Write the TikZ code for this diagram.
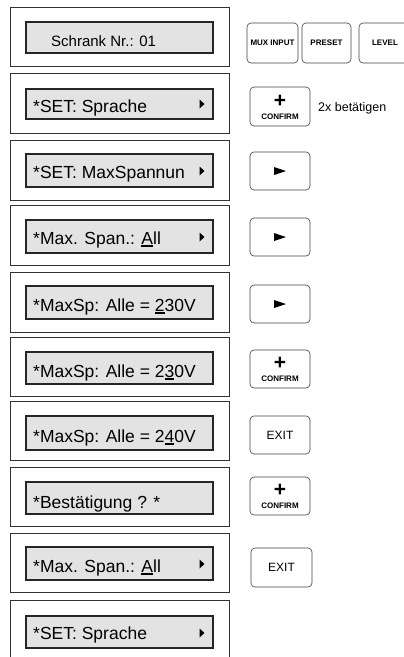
\documentclass[tikz,border=0pt]{standalone}
\usepackage{fontspec}
\setmainfont{Liberation Sans}
\usepackage{tikz}
\usetikzlibrary{calc}
\newcommand\dispfont{\fontsize{17.5}{20}\selectfont}
\newcommand\keyfont{\fontsize{8}{9}\selectfont\bfseries}
\newcommand\curch[1]{\setbox0\hbox{#1}\rlap{\rule[-3pt]{\wd0}{1.6pt}}#1}
\tikzset{
  frame/.style={draw=black!80, line width=0.6pt},
  display/.style={draw=black!85, line width=1.1pt, fill=black!11},
  disptext/.style={anchor=base west, inner sep=0pt, font=\dispfont},
  key/.style={draw=black!75, line width=0.6pt, rounded corners=4pt},
  keytext/.style={inner sep=0pt, font=\keyfont},
  plustext/.style={inner sep=0pt, font=\fontsize{21}{21}\selectfont\bfseries},
}
\def\scrarrow(#1){\fill ($(#1)+(-2.5,-4.5)$) -- ($(#1)+(2.5,0)$) -- ($(#1)+(-2.5,4.5)$) -- cycle;}
\def\keyarrow(#1){\fill ($(#1)+(-6,-4)$) -- ($(#1)+(6,0)$) -- ($(#1)+(-6,4)$) -- cycle;}

\begin{document}
\begin{tikzpicture}[x=1pt, y=-1pt]
			%%%%% START %%%%%
			\useasboundingbox (0,0) rectangle (404,657);
			
			% Zeile 1
			\draw[frame] (10, 7) rectangle (229, 66);
			\draw[display] (26, 22) rectangle (213, 53);
			\node[disptext, font=\fontsize{15}{17}\selectfont] (schrank) at (51, 46) {Schrank Nr.: 01};
			
			\draw[key] (247, 23) rectangle (298, 63);
			\node[keytext] (muxinput) at (272.5, 43) {MUX INPUT};
			\draw[key] (302, 23) rectangle (351, 63);
			\node[keytext] (preset) at (326.5, 43) {PRESET};
			\draw[key] (359, 23) rectangle (412, 63);
			\node[keytext] (level) at (385, 43) {LEVEL};
			
			% Zeile 2
			\draw[frame] (10, 73) rectangle (229, 133);
			\draw[display] (26, 89) rectangle (213, 119);
			\node[disptext] (sprache1) at (33, 112) {*SET: Sprache};
			\scrarrow(202, 104)
			
			\draw[key] (250, 87) rectangle (310, 126);
			\node[plustext] (plus1) at (280, 101) {+};
			\node[keytext] (confirm1) at (280, 117) {CONFIRM};
			\node[anchor=base west, inner sep=0pt, font=\fontsize{12.5}{14}\selectfont] (zweimal) at (318, 111) {2x betätigen};
			
			% Zeile 3
			\draw[frame] (10, 140) rectangle (229, 200);
			\draw[display] (26, 154) rectangle (213, 187);
			\node[disptext] (maxspannung) at (33, 178) {*SET: MaxSpannun};
			\scrarrow(202, 171)
			
			\draw[key] (250, 152) rectangle (310, 190);
			\keyarrow(280, 171)
			
			% Zeile 4
			\draw[frame] (10, 205) rectangle (229, 265);
			\draw[display] (26, 220) rectangle (213, 253);
			\node[disptext] (spanall1) at (33, 244) {*Max. Span.: \curch{A}ll};
			\scrarrow(202, 237)
			
			\draw[key] (250, 218) rectangle (310, 256);
			\keyarrow(280, 237)
			
			% Zeile 5
			\draw[frame] (10, 272) rectangle (229, 332);
			\draw[display] (26, 286) rectangle (213, 319);
			\node[disptext] (alle1) at (33, 311) {*MaxSp: Alle = \curch{2}30V};
			
			\draw[key] (250, 285) rectangle (310, 323);
			\keyarrow(280, 304)
			
			% Zeile 6
			\draw[frame] (10, 337) rectangle (229, 396);
			\draw[display] (26, 352) rectangle (213, 384);
			\node[disptext] (alle2) at (33, 377) {*MaxSp: Alle = 2\curch{3}0V};
			
			\draw[key] (250, 350) rectangle (310, 388);
			\node[plustext] (plus2) at (280, 363) {+};
			\node[keytext] (confirm2) at (280, 379) {CONFIRM};
			
			% Zeile 7
			\draw[frame] (10, 401) rectangle (229, 460);
			\draw[display] (26, 416) rectangle (213, 450);
			\node[disptext] (alle3) at (33, 442) {*MaxSp: Alle = 2\curch{4}0V};
			
			\draw[key] (250, 416) rectangle (310, 454);
			\node[keytext, font=\fontsize{12}{13}\selectfont] (exit1) at (280, 435) {EXIT};
			
			% Zeile 8
			\draw[frame] (10, 467) rectangle (229, 526);
			\draw[display] (26, 482) rectangle (213, 514);
			\node[disptext] (bestaetigung) at (33, 508) {*Bestätigung ? *};
			
			\draw[key] (250, 477) rectangle (310, 515);
			\node[plustext] (plus3) at (280, 490) {+};
			\node[keytext] (confirm3) at (280, 506) {CONFIRM};
			
			% Zeile 9
			\draw[frame] (10, 533) rectangle (229, 592);
			\draw[display] (26, 547) rectangle (213, 580);
			\node[disptext] (spanall2) at (33, 572) {*Max. Span.: \curch{A}ll};
			\scrarrow(202, 564)
			
			\draw[key] (251, 548) rectangle (312, 587);
			\node[keytext, font=\fontsize{12}{13}\selectfont] (exit2) at (281.5, 567) {EXIT};
			
			% Zeile 10
			\draw[frame] (10, 600) rectangle (229, 662);
			\draw[display] (26, 616) rectangle (213, 648);
			\node[disptext] (sprache2) at (33, 639) {*SET: Sprache};
			\scrarrow(202, 633)
			
			%%%%% END %%%%%
\end{tikzpicture}
\end{document}
